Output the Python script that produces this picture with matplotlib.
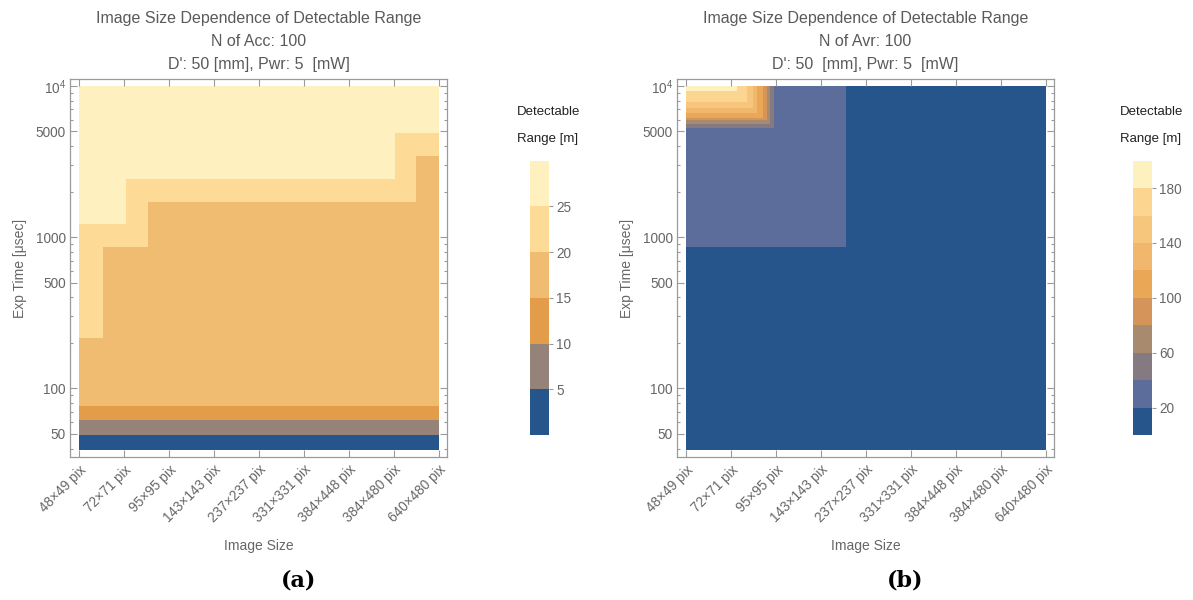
import numpy as np
import matplotlib
matplotlib.use("Agg")
import matplotlib.pyplot as plt
from matplotlib.colors import ListedColormap, BoundaryNorm
from matplotlib.cm import ScalarMappable
from matplotlib.ticker import FixedLocator, NullFormatter, NullLocator

plt.rcParams['font.family'] = ['Liberation Sans', 'DejaVu Sans']
plt.rcParams['mathtext.default'] = 'regular'

# ---------------- data ----------------
image_sizes = ["48×49 pix", "72×71 pix", "95×95 pix", "143×143 pix", "237×237 pix",
               "331×331 pix", "384×448 pix", "384×480 pix", "640×480 pix"]

# (a) N of Acc: 100 -- cell edges (image-size index, exposure time in usec) and range [m]
acc_x_edges = [0, 0.54, 1.04, 1.53, 7.02, 7.5, 8]
acc_t_edges = [39, 48.9, 61.4, 77.1, 217, 867, 1219, 1718, 2427, 3442, 4862, 10000]
acc_range = [
    [3.0, 3.0, 3.0, 3.0, 3.0, 3.0],
    [7.5, 7.5, 7.5, 7.5, 7.5, 7.5],
    [12.5, 12.5, 12.5, 12.5, 12.5, 12.5],
    [17.5, 17.5, 17.5, 17.5, 17.5, 17.5],
    [22.5, 17.5, 17.5, 17.5, 17.5, 17.5],
    [22.5, 22.5, 22.5, 17.5, 17.5, 17.5],
    [27.0, 27.0, 22.5, 17.5, 17.5, 17.5],
    [27.0, 27.0, 22.5, 22.5, 22.5, 17.5],
    [27.0, 27.0, 27.0, 27.0, 22.5, 17.5],
    [27.0, 27.0, 27.0, 27.0, 22.5, 22.5],
    [27.0, 27.0, 27.0, 27.0, 27.0, 27.0],
]
acc_levels = [0, 5, 10, 15, 20, 25, 30]
acc_ticks = [5, 10, 15, 20, 25]
acc_colors = ["#26558B", "#958379", "#E39D4A", "#F0BC71", "#FDDA95", "#FEF0BF"]

# (b) N of Avr: 100
avr_x_edges = [0, 1.13, 1.36, 1.49, 1.58, 1.71, 1.80, 1.87, 1.96, 3.55, 8]
avr_t_edges = [39, 867, 5250, 5580, 5960, 6170, 6600, 7130, 7870, 9270, 10000]
avr_range = [
    [10, 10, 10, 10, 10, 10, 10, 10, 10, 10],
    [30, 30, 30, 30, 30, 30, 30, 30, 30, 10],
    [50, 50, 50, 50, 50, 50, 50, 50, 30, 10],
    [70, 70, 70, 70, 70, 70, 70, 50, 30, 10],
    [90, 90, 90, 90, 90, 90, 70, 50, 30, 10],
    [110, 110, 110, 110, 110, 90, 70, 50, 30, 10],
    [130, 130, 130, 130, 110, 90, 70, 50, 30, 10],
    [150, 150, 150, 130, 110, 90, 70, 50, 30, 10],
    [170, 170, 150, 130, 110, 90, 70, 50, 30, 10],
    [190, 170, 150, 130, 110, 90, 70, 50, 30, 10],
]
avr_levels = [0, 20, 40, 60, 80, 100, 120, 140, 160, 180, 200]
avr_ticks = [20, 60, 100, 140, 180]
avr_colors = ["#26558B", "#5C6D9B", "#867A82", "#A88B6F", "#D5955A",
              "#EAA857", "#F1B86D", "#F6C67C", "#FCD691", "#FEF1C0"]

y_major = [50, 100, 500, 1000, 5000, 10000]
y_major_labels = ["50", "100", "500", "1000", "5000", "10$^{4}$"]
y_minor = [40, 60, 70, 80, 90, 200, 300, 400, 600, 700, 800, 900,
           2000, 3000, 4000, 6000, 7000, 8000, 9000]

# ---------------- drawing ----------------
W, H = 1193, 600
fig = plt.figure(figsize=(W / 100, H / 100), dpi=100)

FRAME = "#9a9a9a"
TICKC = "#666666"
TITLEC = "#5a5a5a"


def px_axes(x0, y0, x1, y1):
    return fig.add_axes([x0 / W, 1 - y1 / H, (x1 - x0) / W, (y1 - y0) / H])


def panel(x0, x_edges, t_edges, z, levels, colors, ticks, subtitle, dline, cbx, letter):
    ax = px_axes(x0, 79, x0 + 377, 457)
    cmap = ListedColormap(colors)
    norm = BoundaryNorm(levels, cmap.N)
    ax.pcolormesh(x_edges, t_edges, np.array(z), cmap=cmap, norm=norm,
                  shading='flat', antialiased=False, linewidth=0)
    ax.set_yscale('log')
    ax.set_xlim(-0.2, 8.18)
    ax.set_ylim(35.2, 11117)
    for s in ax.spines.values():
        s.set_color(FRAME)
        s.set_linewidth(0.9)

    ax.yaxis.set_major_locator(FixedLocator(y_major))
    ax.set_yticklabels(y_major_labels)
    ax.yaxis.set_minor_locator(FixedLocator(y_minor))
    ax.yaxis.set_minor_formatter(NullFormatter())
    ax.set_xticks(range(len(image_sizes)))
    ax.set_xticklabels(image_sizes, rotation=45, ha='right', va='top',
                       rotation_mode='anchor', fontsize=10)
    ax.tick_params(which='both', direction='in', colors=FRAME, labelcolor=TICKC,
                   labelsize=9.8, top=True, right=True, width=0.8)
    ax.tick_params(which='major', length=5)
    ax.tick_params(which='minor', length=2.5)
    ax.tick_params(axis='x', pad=4)
    ax.tick_params(axis='y', pad=3)

    ax.set_xlabel("Image Size", fontsize=10, color=TICKC, labelpad=10)
    ax.set_ylabel("Exp Time [μsec]", fontsize=10, color=TICKC, labelpad=6)

    cx = x0 + 377 / 2
    fig.text(cx / W, 1 - 18 / H, "Image Size Dependence of Detectable Range",
             ha='center', va='center', fontsize=11.5, color=TITLEC)
    fig.text(cx / W, 1 - 41 / H, subtitle, ha='center', va='center',
             fontsize=11.5, color=TITLEC)
    fig.text(cx / W, 1 - 64 / H, dline, ha='center', va='center',
             fontsize=11.5, color=TITLEC)

    # colour legend
    cax = px_axes(cbx, 160.7, cbx + 19, 435)
    sm = ScalarMappable(norm=norm, cmap=cmap)
    cb = fig.colorbar(sm, cax=cax, boundaries=levels, ticks=ticks, spacing='uniform')
    cb.outline.set_visible(False)
    cax.yaxis.set_minor_locator(NullLocator())
    cax.tick_params(which='major', length=3, width=0.8, colors=FRAME,
                    labelcolor=TICKC, labelsize=9.8, pad=2)
    fig.text((cbx - 13) / W, 1 - 112 / H, "Detectable", ha='left', va='center',
             fontsize=9.5, color="#222222")
    fig.text((cbx - 13) / W, 1 - 139 / H, "Range [m]", ha='left', va='center',
             fontsize=9.5, color="#222222")

    fig.text(cx / W + 40 / W, 1 - 580 / H, letter, ha='center', va='center',
             fontsize=16, fontweight='bold', family='DejaVu Serif', color='black')
    return ax


panel(70, acc_x_edges, acc_t_edges, acc_range, acc_levels, acc_colors, acc_ticks,
      "N of Acc: 100", "D': 50 [mm], Pwr: 5  [mW]", 530, "(a)")
panel(677, avr_x_edges, avr_t_edges, avr_range, avr_levels, avr_colors, avr_ticks,
      "N of Avr: 100", "D': 50  [mm], Pwr: 5  [mW]", 1133, "(b)")

fig.savefig("out.png", dpi=100)
